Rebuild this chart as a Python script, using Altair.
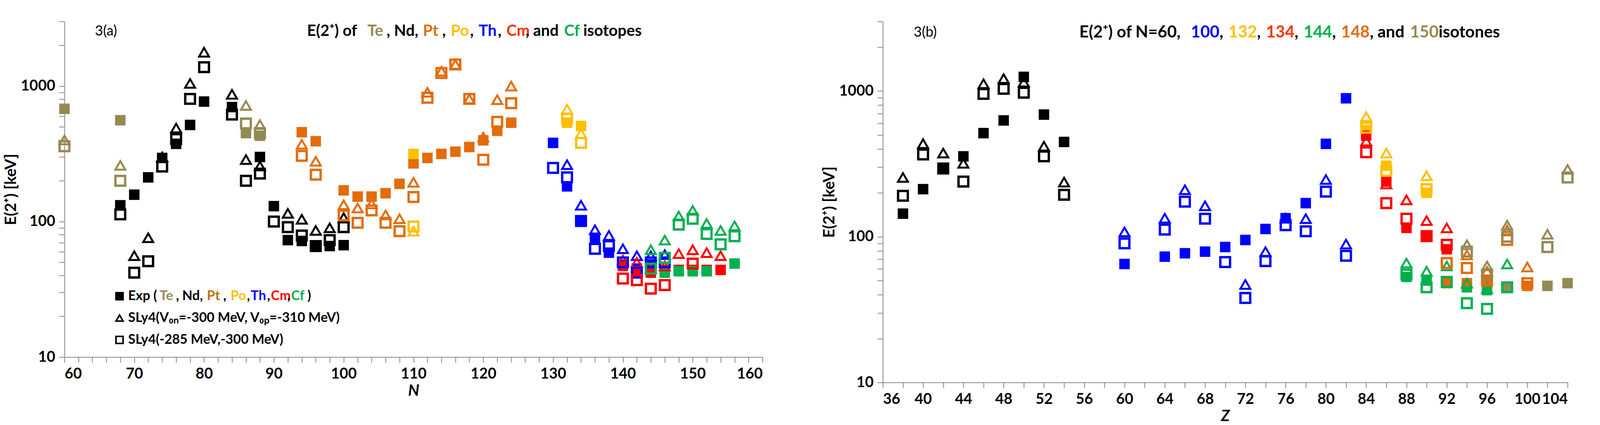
import altair as alt
import pandas as pd

# ---- panel (a): E(2+) vs N, isotopes ----
iso_names = ["Te", "Nd", "Pt", "Po", "Th", "Cm", "Cf"]
iso_colors = ["#948A54", "#000000", "#E36C0A", "#FFC000", "#0000FF", "#FF0000", "#00B050"]

te_n = [60, 68, 86, 88]
te_exp = [680, 560, 450, 430]
te_tri = [400, 260, 720, 520]
te_sq = [360, 200, 530, 450]

nd_n = [68, 70, 72, 74, 76, 78, 80, 84, 86, 88, 90, 92, 94, 96, 98, 100]
nd_exp = [132, 158, 212, 295, 375, 517, 769, 700, None, 300, 130, 73, 72, 66, 66, 67]
nd_tri = [None, 56, 76, 300, 490, 1047, 1778, 870, 287, 257, None, 115, 104, 86, 90, 107]
nd_sq = [113, 42, 51, 255, 407, 805, 1380, 617, 200, 226, 100, 91, 79, 66, 73, 91]

pt_n = [94, 96, 100, 102, 104, 106, 108, 110, 112, 114, 116, 118, 120, 122, 124]
pt_exp = [457, 392, 170, 153, 153, 162, 190, 269, 295, 316, 328, 355, 398, 468, 537]
pt_tri = [372, 279, 133, 126, 135, 112, 105, 195, 900, 1288, 1445, 805, 420, 794, 1000]
pt_sq = [306, 222, 111, 98, 121, 98, 85, 152, 820, 1250, 1445, 805, 286, 545, 748]

po_n = [110, 132, 134]
po_exp = [316, 537, 508]
po_tri = [85, 676, 446]
po_sq = [92, 575, 381]

th_n = [130, 132, 134, 136, 138, 140, 142, 144, 146]
th_exp = [381, 182, 101, 76, 59, 48, 45, 48, None]
th_tri = [None, 263, 132, 87, 79, 63, 56, 56, 57]
th_sq = [249, 212, 101, 63, 66, 50, 42, 50, 50]

cm_n = [140, 142, 144, 146, 148, 150, 152, 154]
cm_exp = [47, 42, 42, 44, 44, 44, 44, 44]
cm_tri = [52, 50, 45, 47, 58, 62, 59, 56]
cm_sq = [38, 37, 32, 34, None, 49, None, None]

cf_n = [144, 146, 148, 150, 152, 154, 156]
cf_exp = [None, 42, 43, 43, 43, None, 49]
cf_tri = [62, 73, 110, 121, 97, 86, 93]
cf_sq = [45, 54, 95, 105, 81, 68, 78]

# ---- panel (b): E(2+) vs Z, isotones ----
ton_names = ["N=60", "N=100", "N=132", "N=134", "N=144", "N=148", "N=150"]
ton_colors = ["#000000", "#0000FF", "#FFC000", "#FF0000", "#00B050", "#E36C0A", "#948A54"]

n60_z = [38, 40, 42, 44, 46, 48, 50, 52, 54]
n60_exp = [144, 212, 294, 356, 514, 628, 1250, 689, 447]
n60_tri = [255, 435, 375, 319, 1121, 1216, 1150, 418, 237]
n60_sq = [191, 367, 294, 239, 955, 1035, 974, 356, 194]

n100_z = [60, 64, 66, 68, 70, 72, 74, 76, 78, 80, 82]
n100_exp = [65, 73, 77, 79, 85, 95, 113, 134, 170, 434, 891]
n100_tri = [108, 134, 210, 163, None, 47, 79, 134, 133, 247, 89]
n100_sq = [90, 112, 174, 133, 67, 38, 68, 120, 109, 204, 74]

n132_z = [84, 86, 90]
n132_exp = [540, 307, 200]
n132_tri = [667, 375, 262]
n132_sq = [560, 283, 212]

n134_z = [84, 86, 88, 90, 92]
n134_exp = [494, 239, 115, 101, 82]
n134_tri = [453, 230, 179, 129, 115]
n134_sq = [380, 170, 133, 101, 88]

n144_z = [88, 90, 92, 94, 96, 98]
n144_exp = [53, 50, 48, 45, 43, None]
n144_tri = [66, 58, 63, 48, 44, 65]
n144_sq = [55, 45, 49, 35, 32, 45]

n148_z = [92, 94, 96, 98, 100]
n148_exp = [48, 48, 50, None, 46]
n148_tri = [None, 75, 58, 111, 62]
n148_sq = [66, 61, 50, 95, 48]

n150_z = [94, 96, 98, 102, 104]
n150_exp = [None, None, 45, 46, 48]
n150_tri = [88, 63, 120, 104, 290]
n150_sq = [79, 55, 100, 85, 255]

FONT = "Lato"


def long_table(groups):
    rows = []
    for name, xs, exp, tri, sq in groups:
        for kind, vals in (("exp", exp), ("tri", tri), ("sq", sq)):
            for x, v in zip(xs, vals):
                if v is not None:
                    rows.append({"series": name, "x": x, "E": v, "kind": kind})
    return pd.DataFrame(rows)


def text_width(s, size):
    # rough Lato Bold advance widths, in em
    w = 0
    for c in s:
        if c == " ":
            w += 0.26
        elif c in ",.":
            w += 0.29
        elif c in "()[]":
            w += 0.33
        elif c == "⁺":
            w += 0.32
        elif c.isdigit():
            w += 0.58
        elif c.isupper():
            w += 0.68
        else:
            w += 0.55
    return w * size


def segments(parts, x0, y, size):
    rows = []
    x = x0
    for txt, col in parts:
        rows.append({"t": txt, "px": x, "py": y, "col": col})
        x += text_width(txt, size)
    return pd.DataFrame(rows)


def text_layer(df, size, bold=True):
    return alt.Chart(df).mark_text(
        align="left", baseline="middle", font=FONT, fontSize=size,
        fontWeight="bold" if bold else "normal"
    ).encode(
        x=alt.X("px:Q", scale=None),
        y=alt.Y("py:Q", scale=None),
        color=alt.Color("col:N", scale=None),
        text="t:N",
    )


y_ticks = [10 * k for k in range(1, 10)] + [100 * k for k in range(1, 10)] + [1000, 2000, 3000]
y_label = "datum.value == 10 || datum.value == 100 || datum.value == 1000 ? format(datum.value, 'd') : ''"


def scatter(df, names, colors, x_dom, x_ticks, x_label, x_title, y_title):
    color = alt.Color("series:N", scale=alt.Scale(domain=names, range=colors), legend=None)
    x = alt.X("x:Q", scale=alt.Scale(domain=x_dom, nice=False, zero=False),
              axis=alt.Axis(values=x_ticks, labelExpr=x_label, title=x_title,
                            titleFontStyle="italic"))
    y = alt.Y("E:Q", scale=alt.Scale(type="log", domain=[10, 3000], nice=False),
              axis=alt.Axis(values=y_ticks, labelExpr=y_label, title=y_title))
    base = alt.Chart(df).encode(x=x, y=y, color=color)
    exp = base.transform_filter(alt.datum.kind == "exp").mark_point(
        shape="square", filled=True, size=720, opacity=1)
    tri = base.transform_filter(alt.datum.kind == "tri").mark_point(
        shape="triangle-up", filled=False, size=650, strokeWidth=5, opacity=1)
    sq = base.transform_filter(alt.datum.kind == "sq").mark_point(
        shape="square", filled=False, size=620, strokeWidth=6, opacity=1)
    return exp, tri, sq


df_a = long_table([
    ("Te", te_n, te_exp, te_tri, te_sq),
    ("Nd", nd_n, nd_exp, nd_tri, nd_sq),
    ("Pt", pt_n, pt_exp, pt_tri, pt_sq),
    ("Po", po_n, po_exp, po_tri, po_sq),
    ("Th", th_n, th_exp, th_tri, th_sq),
    ("Cm", cm_n, cm_exp, cm_tri, cm_sq),
    ("Cf", cf_n, cf_exp, cf_tri, cf_sq),
])
df_b = long_table([
    ("N=60", n60_z, n60_exp, n60_tri, n60_sq),
    ("N=100", n100_z, n100_exp, n100_tri, n100_sq),
    ("N=132", n132_z, n132_exp, n132_tri, n132_sq),
    ("N=134", n134_z, n134_exp, n134_tri, n134_sq),
    ("N=144", n144_z, n144_exp, n144_tri, n144_sq),
    ("N=148", n148_z, n148_exp, n148_tri, n148_sq),
    ("N=150", n150_z, n150_exp, n150_tri, n150_sq),
])

ytitle = "E(2⁺)   [keV]"
wa, ha = 1787, 860
wb, hb = 1753, 925

ea, ta, sa = scatter(df_a, iso_names, iso_colors, [60, 160], list(range(60, 161, 2)),
                     "datum.value % 10 == 0 ? datum.value : ''", "N", ytitle)
eb, tb, sb = scatter(df_b, ton_names, ton_colors, [36, 104], list(range(36, 105, 2)),
                     "(datum.value - 36) % 4 == 0 ? datum.value : ''", "Z", ytitle)

# titles and legend text
title_a = segments([("E(2⁺) of ", "#000000"), ("Te", "#948A54"), (", Nd, ", "#000000"),
                    ("Pt", "#E36C0A"), (", ", "#000000"), ("Po", "#FFC000"), (", ", "#000000"),
                    ("Th", "#0000FF"), (", ", "#000000"), ("Cm", "#FF3300"),
                    (", and ", "#000000"), ("Cf", "#00B050"), ("  isotopes", "#000000")],
                   621, 25, 40)
title_b = segments([("E(2⁺) of N=60, ", "#000000"), ("100", "#0000FF"), (", ", "#000000"),
                    ("132", "#FFC000"), (", ", "#000000"), ("134", "#FF3300"), (", ", "#000000"),
                    ("144", "#00B050"), (", ", "#000000"), ("148", "#E36C0A"),
                    (", and ", "#000000"), ("150", "#948A54"), ("  isotones", "#000000")],
                   503, 28, 42)
leg_exp = segments([("Exp (", "#000000"), ("Te", "#948A54"), (", Nd, ", "#000000"),
                    ("Pt", "#C07000"), (", ", "#000000"), ("Po", "#FFC000"), (",", "#000000"),
                    ("Th", "#0000FF"), (",", "#000000"), ("Cm", "#FF0000"), (",", "#000000"),
                    ("Cf", "#00B050"), (")", "#000000")], 163, 704, 34)
leg_rest = pd.DataFrame({"t": ["SLy4(V₀ₙ=-300 MeV, V₀ₚ=-310 MeV)", "SLy4(-285 MeV,-300 MeV)"],
                         "px": [163, 163], "py": [760, 816], "col": ["#000000", "#000000"]})
panel_lab_a = pd.DataFrame({"t": ["3(a)"], "px": [78], "py": [25], "col": ["#000000"]})
panel_lab_b = pd.DataFrame({"t": ["3(b)"], "px": [79], "py": [28], "col": ["#000000"]})

leg_marks = pd.DataFrame({"px": [141, 141, 141], "py": [704, 760, 816],
                          "shape": ["square", "triangle-up", "square"],
                          "fill": ["#000000", "transparent", "transparent"]})
legend_pts = alt.Chart(leg_marks).mark_point(size=330, strokeWidth=4, color="#000000",
                                             opacity=1).encode(
    x=alt.X("px:Q", scale=None), y=alt.Y("py:Q", scale=None),
    shape=alt.Shape("shape:N", scale=None),
    fill=alt.Fill("fill:N", scale=None),
)

panel_a = alt.layer(
    ea, ta, sa, legend_pts,
    text_layer(title_a, 40), text_layer(leg_exp, 34), text_layer(leg_rest, 34),
    text_layer(panel_lab_a, 36, bold=False),
).properties(width=wa, height=ha,
             title=alt.TitleParams(text=" ", fontSize=30, offset=16))

panel_b = alt.layer(
    eb, tb, sb, text_layer(title_b, 42), text_layer(panel_lab_b, 36, bold=False),
).properties(width=wb, height=hb)

chart = alt.hconcat(panel_a, panel_b, spacing=150).resolve_scale(
    color="independent", x="independent", y="independent"
).configure(
    background="white", padding=0
).configure_view(
    stroke=None
).configure_axis(
    grid=False, domainColor="#868686", domainWidth=2, tickColor="#868686", tickWidth=2,
    tickSize=14, labelFont=FONT, labelFontSize=38, labelFontWeight="bold",
    labelColor="#000000", titleFont=FONT, titleFontSize=40, titleFontWeight="bold",
    titleColor="#000000", labelPadding=10,
)

chart.save("out.html", embed_options={"renderer": "svg", "actions": False})
